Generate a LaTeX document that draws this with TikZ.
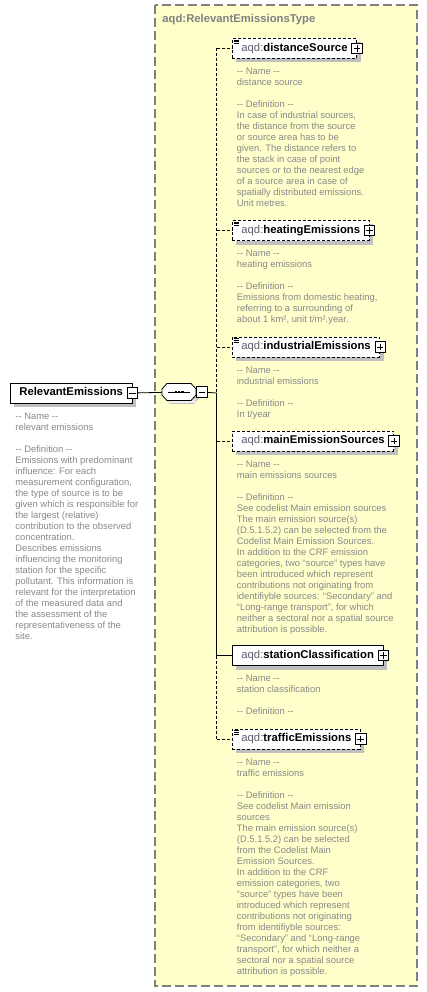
\documentclass[tikz,border=0pt]{standalone}
\usepackage{fontspec}
\setmainfont{Liberation Sans}
\usetikzlibrary{positioning,calc,shadows}
\definecolor{paper}{HTML}{FFFFCC}
\definecolor{framegray}{HTML}{808080}
\definecolor{docgray}{HTML}{888888}
\definecolor{shade}{HTML}{C0C0C0}
\definecolor{prefix}{HTML}{5F5F6F}
\newcommand\aqd[1]{\textcolor{prefix}{aqd:}\textbf{#1}\hspace{4pt}}
\newcommand\dd{-{}-}

\begin{document}
\begin{tikzpicture}[x=1pt,y=-1pt,line width=.8pt,
  frame/.style={draw=framegray,fill=paper,line width=1.2pt,dash pattern=on 9pt off 4pt},
  optline/.style={dash pattern=on 3pt off 2pt},
  elem/.style={draw,fill=white,anchor=west,inner xsep=9pt,inner ysep=0pt,
    minimum height=20pt,text height=8.2pt,text depth=2.4pt,
    font=\fontsize{11.3}{13}\selectfont,
    general shadow={fill=shade,shadow xshift=4pt,shadow yshift=-4pt}},
  optional/.style={elem,optline},
  doc/.style={anchor=north west,align=left,inner sep=0pt,text=docgray,
    font=\fontsize{9.4}{11}\selectfont},
  plusbox/.style={draw,solid,fill=white,minimum size=10.5pt,inner sep=0pt,
    path picture={\draw[line width=.7pt]
      ([xshift=2pt]path picture bounding box.west)--([xshift=-2pt]path picture bounding box.east)
      ([yshift=2pt]path picture bounding box.south)--([yshift=-2pt]path picture bounding box.north);}},
  minusbox/.style={draw,solid,fill=white,minimum size=10.5pt,inner sep=0pt,
    path picture={\draw[line width=.7pt]
      ([xshift=2pt]path picture bounding box.west)--([xshift=-2pt]path picture bounding box.east);}}]
  \useasboundingbox (0,0) rectangle (427,992);
  \draw[frame] (155,5) rectangle (417,986);
  \node[anchor=west,inner sep=0pt,text=framegray,font=\fontsize{11.3}{13}\selectfont\bfseries]
    (typename) at (162,20) {aqd:RelevantEmissionsType};

  % Root element and its sequence compositor
  \node[elem] (rel) at (10,393) {\textbf{RelevantEmissions}\hspace{4pt}};
  \node[minusbox] (relx) at (rel.east) {};
  \node[doc] (reldoc) at ([shift={(5,9)}]rel.south west) {\dd{} Name \dd\\relevant emissions\\[11pt]
    \dd{} Definition \dd\\Emissions with predominant\\influence: For each\\measurement configuration,\\
    the type of source is to be\\given which is responsible for\\the largest (relative)\\
    contribution to the observed\\concentration.\\Describes emissions\\influencing the monitoring\\
    station for the specific\\pollutant. This information is\\relevant for the interpretation\\
    of the measured data and\\the assessment of the\\representativeness of the\\site.};
  \node[minimum width=34pt,minimum height=17pt,inner sep=0pt] (seq) at (179,392) {};
  \fill[shade,shift={(seq.center)}] (-14,0) -- (-9,-5.5) -- (15,-5.5) -- (20,0)
    -- (20,6) -- (15,11.5) -- (-9,11.5) -- (-14,6) -- cycle;
  \draw[fill=white,shift={(seq.center)}] (-17,-3) -- (-12,-8.5) -- (12,-8.5) -- (17,-3)
    -- (17,3) -- (12,8.5) -- (-12,8.5) -- (-17,3) -- cycle;
  \draw (seq.center) ++(-11,0) -- ++(22,0);
  \foreach \dx in {-3.3,0,3.3}
    \fill ([shift={(\dx-1.2,-1.2)}]seq.center) rectangle ++(2.4,2.4);
  \node[minusbox,anchor=west] (seqx) at (seq.east) {};
  \coordinate (spine) at (216.5,393);
  \draw (relx) -- (seq);
  \draw (seqx) -- (spine);

  % Child elements
  \node[optional] (ds) at (232,48.5) {\aqd{distanceSource}};
  \node[optional] (he) at (232,230.5) {\aqd{heatingEmissions}};
  \node[optional] (ie) at (232,347) {\aqd{industrialEmissions}};
  \node[optional] (ms) at (232,441) {\aqd{mainEmissionSources}};
  \node[elem] (sc) at (232,655.5) {\aqd{stationClassification}};
  \node[optional] (te) at (232,739) {\aqd{trafficEmissions}};
  \foreach \n in {ds,he,ie,ms,sc,te}
    \node[plusbox] (\n x) at (\n.east) {};
  \foreach \n in {ds,he,ie,te}
    \foreach \k in {0,1.7,3.4}
      \draw[line width=.6pt] ([shift={(1.5,1.8+\k)}]\n.north west) -- ++(5.5,0);

  % Spine and branches
  \draw[optline] (ds.west -| spine) -- (spine);
  \draw (spine) -- (sc.west -| spine);
  \draw[optline] (sc.west -| spine) -- (te.west -| spine);
  \foreach \n in {ds,he,ie,ms,te}
    \draw[optline] (\n.west -| spine) -- (\n);
  \draw (sc.west -| spine) -- (sc);

  % Documentation
  \node[doc] (dsdoc) at ([shift={(4.5,9)}]ds.south west) {\dd{} Name \dd\\distance source\\[11pt]
    \dd{} Definition \dd\\In case of industrial sources,\\the distance from the source\\
    or source area has to be\\given. The distance refers to\\the stack in case of point\\
    sources or to the nearest edge\\of a source area in case of\\spatially distributed emissions.\\
    Unit metres.};
  \node[doc] (hedoc) at ([shift={(4.5,9)}]he.south west) {\dd{} Name \dd\\heating emissions\\[11pt]
    \dd{} Definition \dd\\Emissions from domestic heating,\\referring to a surrounding of\\
    about 1 km², unit t/m².year.};
  \node[doc] (iedoc) at ([shift={(4.5,9)}]ie.south west) {\dd{} Name \dd\\industrial emissions\\[11pt]
    \dd{} Definition \dd\\In t/year};
  \node[doc] (msdoc) at ([shift={(4.5,9)}]ms.south west) {\dd{} Name \dd\\main emissions sources\\[11pt]
    \dd{} Definition \dd\\See codelist Main emission sources\\The main emission source(s)\\
    (D.5.1.5.2) can be selected from the\\Codelist Main Emission Sources.\\
    In addition to the CRF emission\\categories, two “source” types have\\
    been introduced which represent\\contributions not originating from\\
    identifiyble sources: “Secondary” and\\“Long-range transport”, for which\\
    neither a sectoral nor a spatial source\\attribution is possible.};
  \node[doc] (scdoc) at ([shift={(4.5,9)}]sc.south west) {\dd{} Name \dd\\station classification\\[11pt]
    \dd{} Definition \dd};
  \node[doc] (tedoc) at ([shift={(4.5,9)}]te.south west) {\dd{} Name \dd\\traffic emissions\\[11pt]
    \dd{} Definition \dd\\See codelist Main emission\\sources\\The main emission source(s)\\
    (D.5.1.5.2) can be selected\\from the Codelist Main\\Emission Sources.\\
    In addition to the CRF\\emission categories, two\\“source” types have been\\
    introduced which represent\\contributions not originating\\from identifiyble sources:\\
    “Secondary” and “Long-range\\transport”, for which neither a\\sectoral nor a spatial source\\
    attribution is possible.};
\end{tikzpicture}
\end{document}
